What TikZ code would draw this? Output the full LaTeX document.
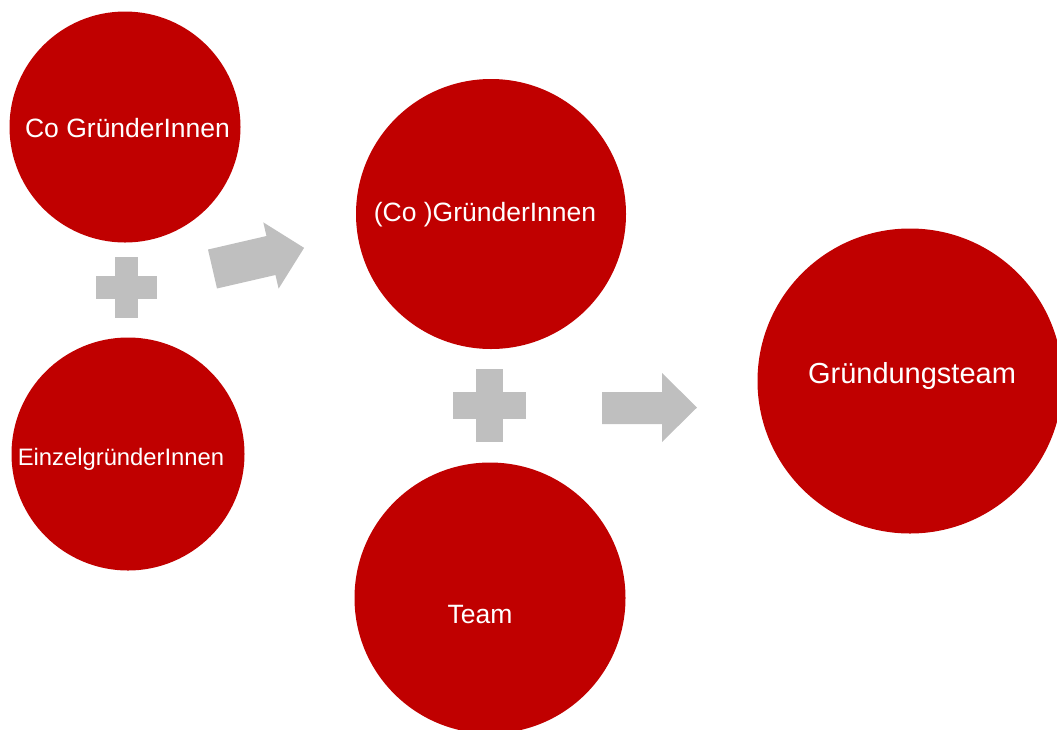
\documentclass[tikz,border=0pt]{standalone}
\usepackage{fontspec}
\setmainfont{Liberation Sans}
\definecolor{gruenderred}{RGB}{192,0,0}
\definecolor{plusgrey}{RGB}{191,191,191}

\begin{document}
\begin{tikzpicture}[x=1pt, y=-1pt,
  bubble/.style={circle, fill=gruenderred, draw=none, inner sep=0pt},
  bubbletext/.style={text=white, inner sep=0pt, font=\fontsize{26.5}{32}\selectfont},
  greyshape/.style={fill=plusgrey, draw=none},
]
  \useasboundingbox (0,0) rectangle (1057,729);
  % circles
  \node[bubble, minimum size=231pt] (cofounders) at (125,127) {};
  \node[bubble, minimum size=233pt] (single) at (128,454) {};
  \node[bubble, minimum size=270pt] (founders) at (491,214) {};
  \node[bubble, minimum size=271pt] (team) at (490,598) {};
  \node[bubble, minimum size=305pt] (foundingteam) at (910,381) {};
  % labels
  \node[bubbletext] (cofounderstext) at (127.5,128) {Co GründerInnen};
  \node[bubbletext, font=\fontsize{23.8}{28}\selectfont] (singletext) at (121,459) {EinzelgründerInnen};
  \node[bubbletext] (founderstext) at (485,215) {(Co )GründerInnen};
  \node[bubbletext] (teamtext) at (480,615) {Team};
  \node[bubbletext, font=\fontsize{29}{35}\selectfont] (foundingteamtext) at (912,376) {Gründungsteam};
  % plus signs
  \fill[greyshape] (96,276) rectangle (157,299);
  \fill[greyshape] (115,257) rectangle (138,318);
  \fill[greyshape] (453,392) rectangle (526,419);
  \fill[greyshape] (476,369) rectangle (503,442);
  % block arrows
  \fill[greyshape, shift={(212.5,269)}, rotate=13]
    (0,-20) -- (60,-20) -- (60,-34) -- (94,0) -- (60,34) -- (60,20) -- (0,20) -- cycle;
  \fill[greyshape]
    (602,392) -- (662,392) -- (662,373) -- (697,407.5) -- (662,442) -- (662,424) -- (602,424) -- cycle;
\end{tikzpicture}
\end{document}
